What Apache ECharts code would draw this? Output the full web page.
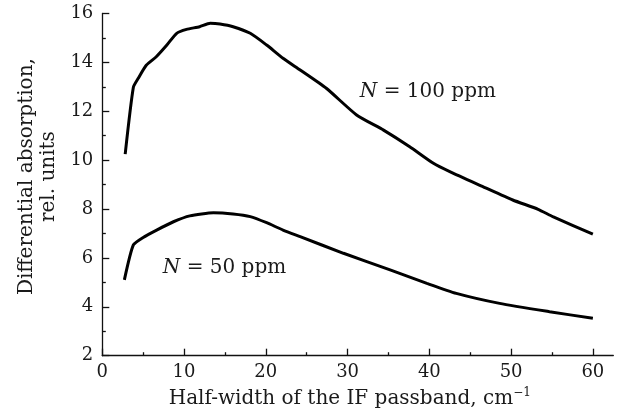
<!DOCTYPE html>
<html>
<head>
<meta charset="utf-8">
<script src="https://cdn.jsdelivr.net/npm/echarts@6/dist/echarts.min.js"></script>
<style>
html,body{margin:0;padding:0;background:#fff;}
#chart{width:619px;height:414px;}
</style>
</head>
<body>
<div id="chart"></div>
<script>
// Data
var xMajorTicks = [0, 10, 20, 30, 40, 50, 60];
var xMinorTicks = [5, 15, 25, 35, 45, 55];
var n100X = [2.8, 3.8, 4.4, 5.4, 6.6, 7.9, 9.1, 10.3, 11.9, 13.2, 14.4, 16.0, 18.1, 20.1, 22.1, 24.2, 27.4, 31.1, 34.4, 37.6, 40.5, 42.5, 46.6, 50.2, 53.3, 55.1, 60.0];
var n100Y = [10.25, 12.98, 13.35, 13.89, 14.23, 14.71, 15.19, 15.35, 15.46, 15.6, 15.57, 15.46, 15.19, 14.71, 14.17, 13.69, 12.94, 11.85, 11.23, 10.55, 9.87, 9.53, 8.91, 8.37, 7.99, 7.69, 6.97];
var n50X = [2.7, 3.8, 5.0, 6.65, 8.7, 10.7, 13.6, 16.0, 18.1, 20.1, 22.1, 24.2, 29.5, 35.2, 39.7, 43.3, 48.6, 54.7, 60.0];
var n50Y = [5.10, 6.53, 6.84, 7.14, 7.48, 7.72, 7.85, 7.80, 7.69, 7.44, 7.14, 6.87, 6.19, 5.51, 4.96, 4.55, 4.14, 3.80, 3.53];
var label100 = {x: 31.5, y: 12.8, n: '100'};
var label50 = {x: 7.4, y: 5.6, n: '50'};

function zip(xs, ys){ return xs.map(function(v,i){ return [v, ys[i]]; }); }

var FONT = 'DejaVu Serif';
var TXT = '#1a1a1a';
var FS = 18;   // tick labels
var FT = 20;   // titles and annotations

function annot(l){
  return {
    symbol: 'circle', symbolSize: 0,
    label: {
      show: true, position: 'inside', align: 'left', verticalAlign: 'middle',
      formatter: '{i|N} = ' + l.n + ' ppm',
      fontFamily: FONT, fontSize: FT, color: TXT,
      rich: { i: { fontStyle: 'italic', fontFamily: FONT, fontSize: FT, color: TXT } }
    },
    data: [{ coord: [l.x, l.y] }]
  };
}

var chart = echarts.init(document.getElementById('chart'), null, {renderer: 'canvas'});
chart.setOption({
  animation: false,
  backgroundColor: '#fff',
  grid: { left: 102.3, top: 13.5, right: 5.7, bottom: 58.3, containLabel: false },
  xAxis: [{
    type: 'value', min: 0, max: 62.5, interval: 10,
    name: 'Half-width of the IF passband, cm{sup|\u22121}',
    nameLocation: 'middle', nameGap: 27,
    nameTextStyle: { fontFamily: FONT, fontSize: FT, color: TXT, padding: [0, 16, 0, 0],
      rich: { sup: { fontFamily: FONT, fontSize: 12, color: TXT, verticalAlign: 'top', padding: [0,0,12,0] } } },
    axisLine: { show: true, onZero: false, lineStyle: { color: '#111', width: 1.3 } },
    axisTick: { show: true, inside: true, length: 7, customValues: xMajorTicks, lineStyle: { color: '#111', width: 1.3 } },
    minorTick: { show: false },
    axisLabel: { customValues: xMajorTicks, fontFamily: FONT, fontSize: FS, color: TXT, margin: 8 },
    splitLine: { show: false }
  }, {
    type: 'value', min: 0, max: 62.5, position: 'bottom',
    axisLine: { show: false },
    axisTick: { show: true, inside: true, length: 3.5, customValues: xMinorTicks, lineStyle: { color: '#111', width: 1.3 } },
    axisLabel: { show: false },
    splitLine: { show: false }
  }],
  yAxis: {
    type: 'value', min: 2, max: 16, interval: 2,
    name: 'Differential absorption,\nrel. units',
    nameLocation: 'middle', nameGap: 31,
    nameTextStyle: { fontFamily: FONT, fontSize: FT, color: TXT, lineHeight: 22, align: 'center', padding: [0, 0, 0, 16] },
    axisLine: { show: true, onZero: false, lineStyle: { color: '#111', width: 1.3 } },
    axisTick: { show: true, inside: true, length: 7, lineStyle: { color: '#111', width: 1.3 } },
    minorTick: { show: true, splitNumber: 2, length: 3.5, lineStyle: { color: '#111', width: 1.3 } },
    axisLabel: { fontFamily: FONT, fontSize: FS, color: TXT, margin: 9 },
    splitLine: { show: false }
  },
  series: [{
    type: 'line', xAxisIndex: 0, data: zip(n100X, n100Y), smooth: 0.2, showSymbol: false, symbol: 'none',
    lineStyle: { color: '#000', width: 3 }, markPoint: annot(label100)
  }, {
    type: 'line', xAxisIndex: 0, data: zip(n50X, n50Y), smooth: 0.2, showSymbol: false, symbol: 'none',
    lineStyle: { color: '#000', width: 3 }, markPoint: annot(label50)
  }]
});
</script>
</body>
</html>
